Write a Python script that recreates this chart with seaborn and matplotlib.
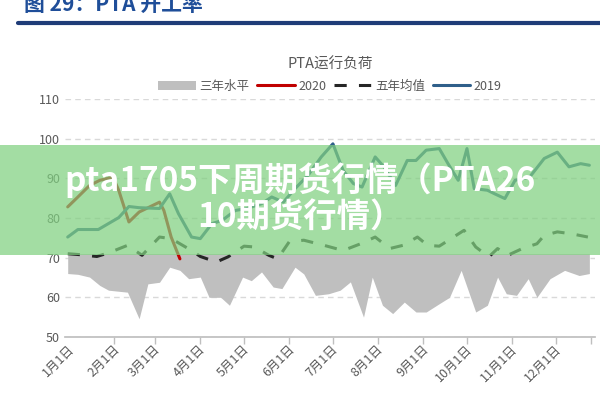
import numpy as np
import pandas as pd
import matplotlib
matplotlib.use("Agg")
import matplotlib.pyplot as plt
from matplotlib.lines import Line2D
from matplotlib.patches import Rectangle
import seaborn as sns

# x positions are day of year
day_2019 = [0, 7, 21, 28, 35, 42, 49, 63, 70, 76, 85, 91, 99, 106, 115, 123, 133, 140, 148, 156, 165, 174, 182, 189, 196, 202, 211, 217, 225, 233, 239, 246, 255, 261, 268, 274, 279, 288, 293, 300, 307, 317, 327, 336, 344, 352, 358]
val_2019 = [75.2, 77.1, 77.1, 78.6, 80.1, 82.9, 82.6, 82.4, 86.1, 81.1, 75.2, 74.8, 78.6, 79.4, 81.9, 82.4, 83.6, 85.3, 84.0, 87.4, 90.8, 95.4, 98.7, 92.0, 88.7, 87.8, 95.4, 92.9, 88.2, 94.5, 94.5, 97.1, 97.5, 93.7, 89.5, 97.5, 87.4, 87.0, 86.1, 84.9, 89.5, 90.3, 95.0, 96.6, 92.9, 93.7, 93.3]

day_2020 = [0, 7, 15, 22, 31, 35, 42, 49, 63, 66, 71, 77]
val_2020 = [82.8, 85.3, 88.2, 89.5, 90.3, 87.0, 79.0, 81.5, 84.0, 81.9, 75.2, 69.7]

day_avg = [0, 7, 20, 28, 41, 51, 63, 71, 85, 91, 102, 110, 121, 128, 138, 144, 152, 162, 176, 189, 201, 211, 221, 230, 240, 247, 255, 272, 280, 289, 295, 302, 312, 322, 327, 336, 346, 357]
val_avg = [71.0, 70.8, 70.3, 71.2, 73.1, 70.6, 75.2, 74.8, 71.8, 70.3, 68.9, 70.2, 72.9, 72.7, 70.6, 69.7, 74.0, 74.4, 73.1, 71.8, 73.5, 75.2, 72.3, 73.1, 75.2, 73.1, 72.9, 76.9, 72.7, 70.2, 72.3, 70.6, 72.3, 73.5, 75.6, 76.5, 76.0, 75.2]

day_band = [0, 7, 15, 22, 28, 41, 49, 55, 63, 70, 77, 83, 91, 97, 105, 111, 120, 126, 133, 141, 147, 156, 162, 170, 179, 187, 194, 203, 209, 216, 223, 231, 239, 246, 255, 262, 270, 280, 288, 295, 301, 308, 316, 322, 331, 341, 351, 358]
band_low = [66.0, 65.8, 65.1, 63.0, 61.8, 61.3, 54.6, 63.4, 63.8, 67.6, 66.8, 64.7, 65.1, 60.0, 60.0, 58.0, 65.1, 64.2, 66.4, 62.6, 62.2, 67.6, 65.9, 60.5, 60.9, 61.8, 63.9, 55.0, 65.1, 58.0, 55.9, 58.8, 56.3, 56.3, 58.4, 60.0, 66.8, 56.3, 58.0, 65.1, 60.9, 60.5, 64.7, 60.0, 64.7, 66.8, 65.5, 66.0]
band_high = [71.0] * len(day_band)

month_days = [0, 31, 59, 90, 120, 151, 181, 212, 243, 273, 304, 334]
month_labels = [f"{m}月1日" for m in range(1, 13)]

sns.set_theme(style="white")
plt.rcParams['font.family'] = ['Noto Sans CJK SC', 'DejaVu Sans']

fig = plt.figure(figsize=(6, 4), dpi=100)
ax = fig.add_axes([0.108, 0.1575, 0.884, 0.595])

ax.fill_between(day_band, band_low, band_high, color="#bfbfbf", lw=0, label="三年水平")
sns.lineplot(x=day_2020, y=val_2020, ax=ax, color="#c00000", lw=2.2, label="2020")
sns.lineplot(x=day_avg, y=val_avg, ax=ax, color="#262626", lw=2.2, label="五年均值")
ax.lines[-1].set_dashes((4, 4))
sns.lineplot(x=day_2019, y=val_2019, ax=ax, color="#2f5f8a", lw=2.2, label="2019")

ax.set_xlim(-2, 362)
ax.set_ylim(50, 110)
ax.set_yticks(range(50, 111, 10))
ax.set_xticks(month_days)
ax.set_xticklabels(month_labels, rotation=45, ha="right", rotation_mode="anchor", fontsize=9, color="#595959")
ax.tick_params(axis="y", labelsize=9, labelcolor="#595959", length=0)
ax.set_xticks([d + 1 for d in month_days[1:]] + [359], minor=True)
ax.tick_params(axis="x", which="major", length=0, pad=4)
ax.tick_params(axis="x", which="minor", length=5, color="#bfbfbf", direction="out")
ax.xaxis.set_ticks_position("bottom")
ax.grid(axis="y", ls=(0, (4, 3)), color="#d9d9d9", lw=1)
for s in ["top", "right", "left"]:
    ax.spines[s].set_visible(False)
ax.spines["bottom"].set_color("#bfbfbf")

ax.set_title("PTA运行负荷", fontsize=10.5, color="#595959", pad=22)
ax.legend(loc="lower center", bbox_to_anchor=(0.5, 0.98), ncol=4, frameon=False,
          fontsize=9, handlelength=3, columnspacing=0.6, handletextpad=0.3,
          labelcolor="#595959")

# header
fig.text(0.04, 0.99, "图 29：PTA 开工率", fontsize=15, fontweight="bold", color="#1f4e99", va="center")
fig.add_artist(Line2D([0.03, 1.0], [0.942, 0.942], color="#1f3c78", lw=3))

# overlay banner
fig.add_artist(Rectangle((0, 0.362), 1, 0.275, transform=fig.transFigure, color="#80d080", alpha=0.72, lw=0))
fig.text(0.5, 0.55, "pta1705下周期货行情（PTA26", fontsize=24, fontweight="bold", color="white", ha="center", va="center")
fig.text(0.5, 0.455, "10期货行情）", fontsize=24, fontweight="bold", color="white", ha="center", va="center")

fig.savefig("out.png", dpi=100)
